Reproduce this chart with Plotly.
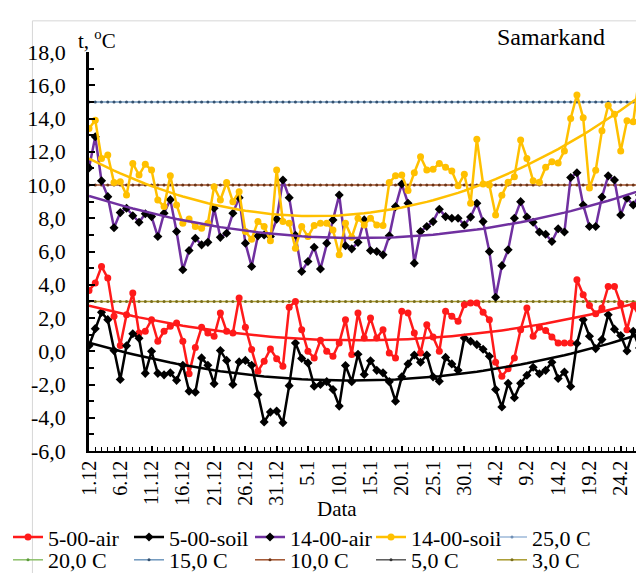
import numpy as np
import plotly.graph_objects as go

# ---------------- data ----------------
tick_labels = ["1.12", "6.12", "11.12", "16.12", "21.12", "26.12", "31.12", "5.1", "10.1",
               "15.1", "20.1", "25.1", "30.1", "4.2", "9.2", "14.2", "19.2", "24.2", "29.2"]
tick_positions = list(range(0, 91, 5))

air_05 = [3.65, 4.1, 5.1, 4.4, 2.1, 0.35, 2.2, 3.5, 1.1, 1.2, 1.9, 0.6, 1.2, 1.5, 1.7, 0.6,
          -1.36, 0.23, 1.44, 1.1, 0.9, 2.3, 1.2, 1.1, 3.2, 1.44, 0.1, -1.2, -0.6, 0.14, -0.45,
          -0.9, 2.65, 3.0, 1.3, 0.0, -0.4, 0.66, 0.0, -0.3, 0.5, 1.9, -0.2, 2.3, 0.8, 2.0, 0.8,
          1.3, -0.1, -0.4, 2.4, 2.3, 1.1, -0.1, 1.6, 0.86, 0.0, 2.4, 2.1,
          1.8, 2.8, 2.9, 2.9, 2.35, 1.9, -0.66, -1.5, -1.05, -0.4, 1.3, 2.6, 0.9, 1.45, 1.25,
          0.86, 0.5, 0.5, 0.5, 4.3, 3.4, 2.75, 2.26, 2.6, 3.9, 3.9, 2.85, 1.3, 2.75, 2.1, 2.3]

soil_05 = [0.33, 1.36, 2.34, 1.9, 0.04, -1.7, 0.33, 1.05, 0.78, -1.33, 0.0, -1.33, -1.42, -1.29,
           -1.75, -0.84, -2.4, -2.46, -0.4, -0.84, -1.95, 0.04, -0.55, -2.0, -0.64, -0.55, -0.84,
           -2.6, -4.25, -3.66, -3.6,
           -4.3, -2.07, 0.5, -0.43, -0.7, -2.1, -2.0, -1.83, -2.3, -3.3, -0.86, -1.83, -0.18, -1.4,
           -0.57, -1.15, -1.3, -1.83, -3.0, -1.54, -0.76, -0.23, -0.66, -0.23, -1.54, -1.8, -0.37,
           -0.76, -1.15, 0.8,
           0.6, 0.4, 0.12, -0.3, -2.3, -3.35, -1.93, -2.8, -1.93, -1.44, -0.96, -1.35, -1.15, -0.66,
           -1.64, -1.25, -2.12, 0.47, 1.9, 0.9, 0.16, 0.7, 2.2, 1.33, 0.94, 0.02, 1.2, 0.2, 0.6]

air_14 = [11.03, 12.9, 10.25, 9.3, 7.43, 8.34, 8.6, 8.15, 7.76, 8.27, 8.1, 6.9, 8.3, 9.12, 7.2,
          4.9, 6.06, 6.8, 6.4, 6.55, 8.6, 6.85, 7.1, 8.3, 9.24, 6.5, 5.1, 6.94, 7.0, 6.9,
          7.95, 10.3, 9.24, 6.98, 4.8, 5.4, 6.26, 4.95, 6.5, 7.9, 9.4, 6.35, 6.16, 6.55, 7.9, 6.06,
          6.0, 5.8, 6.94, 8.7, 10.06, 8.9, 5.3, 7.2, 7.5, 7.8, 8.54, 8.1, 8.0, 8.0, 7.6,
          8.07, 8.9, 7.8, 6.0, 3.25, 5.15, 6.1, 8.0, 9.0, 8.07, 7.76, 7.17, 7.04, 6.6, 7.37, 7.17,
          10.45, 10.74, 8.8, 7.5, 7.5, 9.28, 10.55, 10.3, 8.2, 9.2, 8.8, 9.4, 11.07]

soil_14 = [13.4, 13.9, 11.6, 11.8, 10.15, 10.2, 9.4, 11.3, 10.6, 11.25, 10.9, 9.1, 8.7, 10.55,
           8.8, 7.7, 7.95, 7.5, 7.4, 7.7, 9.9, 9.1, 10.15, 9.0, 9.6, 7.2, 6.74, 7.8, 7.5, 6.65, 10.9,
           7.8, 7.7, 6.2, 7.5, 6.9, 7.56, 7.7, 7.7, 7.3, 5.8, 7.7, 6.85, 8.0, 7.6, 8.0, 7.6, 7.56,
           10.15, 10.55, 10.6, 9.67, 10.74, 11.7, 10.9, 10.94, 11.3, 11.07, 10.84, 9.96, 10.64,
           8.9, 12.75, 10.06, 10.0, 8.2, 9.38, 10.16, 10.5, 12.7, 11.6, 10.25, 10.16, 11.07, 11.4,
           11.33, 12.05, 14.0, 15.42, 14.05, 9.82, 10.88, 13.27, 14.78, 14.25, 12.05, 13.86, 13.8,
           16.6, 17.9]

threshold_names = ["25,0 C", "20,0 C", "15,0 C", "10,0 C", "5,0 C", "3,0 C"]
threshold_levels = [25.0, 20.0, 15.0, 10.0, 5.0, 3.0]
threshold_drawn = [True, True, True, True, False, True]

y_tick_values = [-6, -4, -2, 0, 2, 4, 6, 8, 10, 12, 14, 16, 18]
y_tick_text = ["-6,0", "-4,0", "-2,0", "0,0", "2,0", "4,0", "6,0", "8,0", "10,0", "12,0",
               "14,0", "16,0", "18,0"]

# ---------------- styles ----------------
FONT = "Liberation Serif, Times New Roman, Tinos, DejaVu Serif, serif"
series = [
    ("5-00-air", air_05, "#FF1A1A", "circle", "#FF1A1A", 7),
    ("5-00-soil", soil_05, "#000000", "diamond", "#000000", 7),
    ("14-00-air", air_14, "#7030A0", "diamond", "#000000", 7),
    ("14-00-soil", soil_14, "#FFC000", "circle", "#FFC000", 7),
]
thr_line_colors = ["#9DB9D9", "#8CC06A", "#6F97BD", "#A0522D", "#595959", "#A89A2E"]
thr_marker_colors = ["#6F8FB5", "#5A9A3A", "#34506E", "#6B3315", "#333333", "#7A6E1C"]

n = len(air_05)
days = list(range(n))

fig = go.Figure()

# threshold lines
for i, (name, lvl, drawn) in enumerate(zip(threshold_names, threshold_levels, threshold_drawn)):
    yv = [lvl] * n if drawn else [None] * n
    fig.add_trace(go.Scatter(
        x=days, y=yv, name=name, mode="lines+markers",
        line=dict(color=thr_line_colors[i], width=1.5),
        marker=dict(size=3, color=thr_marker_colors[i]),
        legend="legend" if i == 0 else "legend2",
        legendrank=5 + i, hoverinfo="skip"))

# data series
for k, (name, vals, lc, sym, mc, ms) in enumerate(series):
    fig.add_trace(go.Scatter(
        x=days, y=vals, name=name, mode="lines+markers",
        line=dict(color=lc, width=2.5),
        marker=dict(symbol=sym, size=ms, color=mc),
        legend="legend", legendrank=1 + k))

# polynomial trend lines (order 2), computed from the data
for name, vals, lc, sym, mc, ms in series:
    coef = np.polyfit(days, vals, 2)
    fig.add_trace(go.Scatter(
        x=days, y=np.polyval(coef, days), mode="lines",
        line=dict(color=lc, width=2.5), showlegend=False, hoverinfo="skip"))

W, H = 644, 573
L, R, T, B = 67, 0, 44, 119
pw, ph = W - L - R, H - T - B


def px(x):
    return (x - L) / pw


def py(y):
    return (H - B - y) / ph


legend_common = dict(orientation="h", x=px(-16), xanchor="left", yanchor="top",
                     font=dict(family=FONT, size=22, color="black"), entrywidth=76,
                     entrywidthmode="pixels", bgcolor="rgba(0,0,0,0)", traceorder="normal")

fig.update_layout(
    width=W, height=H,
    margin=dict(l=L, r=R, t=T, b=B),
    plot_bgcolor="white", paper_bgcolor="white",
    font=dict(family=FONT, size=20, color="black"),
    showlegend=True,
    xaxis=dict(
        range=[0, 90], tickmode="array", tickvals=tick_positions, ticktext=tick_labels,
        tickangle=-90, ticks="inside", ticklen=5, tickwidth=1.5, tickcolor="black",
        minor=dict(ticks="inside", dtick=1, tick0=0, ticklen=4, tickwidth=1, tickcolor="black"),
        showline=True, linecolor="black", linewidth=1.5, showgrid=False, zeroline=False,
        tickfont=dict(family=FONT, size=20, color="black"), automargin=False,
        ticklabeloverflow="allow"),
    yaxis=dict(
        range=[-6, 18], tickmode="array", tickvals=y_tick_values, ticktext=y_tick_text,
        ticks="inside", ticklen=6, tickwidth=2, tickcolor="black",
        minor=dict(ticks="inside", dtick=1, tick0=0, ticklen=5, tickwidth=2, tickcolor="black"),
        showline=True, linecolor="black", linewidth=2.5, showgrid=False, zeroline=False,
        tickfont=dict(family=FONT, size=22, color="black"), ticklabelstandoff=16,
        automargin=False),
    legend=dict(y=py(521), **legend_common),
    legend2=dict(y=py(545), **legend_common),
    annotations=[
        dict(text="t, <sup>o</sup>C", x=px(75), y=py(31), xref="paper", yref="paper",
             xanchor="center", yanchor="middle",
             showarrow=False, font=dict(family=FONT, size=21, color="black")),
        dict(text="Samarkand", x=px(540), y=py(29), xref="paper", yref="paper",
             xanchor="center", yanchor="middle",
             showarrow=False, font=dict(family=FONT, size=24, color="black")),
        dict(text="Data", x=px(321), y=py(514), xref="paper", yref="paper",
             xanchor="center", yanchor="middle",
             showarrow=False, font=dict(family=FONT, size=21, color="black")),
    ],
    shapes=[
        dict(type="rect", xref="paper", yref="paper", x0=px(9), x1=px(660), y0=py(590),
             y1=py(12), line=dict(color="#D6D6D6", width=1), layer="below"),
    ],
)

fig.write_html("out.html")
